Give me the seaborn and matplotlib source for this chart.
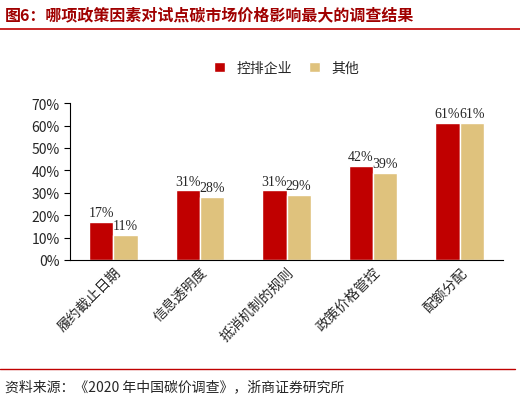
import matplotlib
matplotlib.use("Agg")
import matplotlib.pyplot as plt
import seaborn as sns
import pandas as pd
from matplotlib.lines import Line2D

categories = ["履约截止日期", "信息透明度", "抵消机制的规则", "政策价格管控", "配额分配"]
series_names = ["控排企业", "其他"]
v_ctrl = [17, 31, 31, 42, 61]
v_other = [11, 28, 29, 39, 61]
yticks = [0, 10, 20, 30, 40, 50, 60, 70]

sns.set_style("white")
plt.rcParams['font.family'] = ['Noto Sans CJK SC', 'DejaVu Sans']

df = pd.DataFrame({"cat": categories * 2,
                   "series": [series_names[0]] * 5 + [series_names[1]] * 5,
                   "val": v_ctrl + v_other})

fig = plt.figure(figsize=(5.2, 4.02), dpi=100)
ax = fig.add_axes([0.135, 0.351, 0.832, 0.39])
sns.barplot(data=df, x="cat", y="val", hue="series", palette=["#C00000", "#DFC27D"],
            width=0.56, saturation=1, ax=ax, legend=True)
for c in ax.containers:
    ax.bar_label(c, labels=[f"{v:.0f}%" for v in c.datavalues], fontsize=10,
                 family=['Liberation Serif', 'DejaVu Serif'], padding=2)
ax.set_ylim(0, 70)
ax.set_yticks(yticks)
ax.set_yticklabels([f"{t}%" for t in yticks], fontsize=10)
ax.set_xlabel(""); ax.set_ylabel("")
ax.set_xticks([i for i in range(5)])
ax.set_xticklabels(categories, rotation=45, ha="right", rotation_mode="anchor", fontsize=10)
ax.set_xticks([i - 0.5 for i in range(6)], minor=True)
ax.tick_params(axis="x", which="major", length=0)
ax.tick_params(axis="x", which="minor", length=4, direction="out", color="black")
ax.tick_params(axis="y", length=4, direction="out", color="black", left=True)
for s in ["top", "right"]:
    ax.spines[s].set_visible(False)
for s in ["left", "bottom"]:
    ax.spines[s].set_color("black")
ax.set_xlim(-0.5, 4.5)
ax.legend(loc="lower center", bbox_to_anchor=(0.5, 1.1), ncol=2, frameon=False,
          fontsize=10, handlelength=0.8, handleheight=0.8, columnspacing=1.2)

fig.text(0.01, 0.962, "图6：哪项政策因素对试点碳市场价格影响最大的调查结果", color="#A00000",
         fontsize=11.5, va="center", fontweight="bold")
fig.add_artist(Line2D([0, 1], [0.925, 0.925], color="#C00000", lw=1.2))
fig.add_artist(Line2D([0, 0.99], [0.08, 0.08], color="#C00000", lw=1))
fig.text(0.01, 0.037, "资料来源：《2020 年中国碳价调查》，浙商证券研究所", fontsize=10, va="center")
fig.savefig("out.png", dpi=100)
